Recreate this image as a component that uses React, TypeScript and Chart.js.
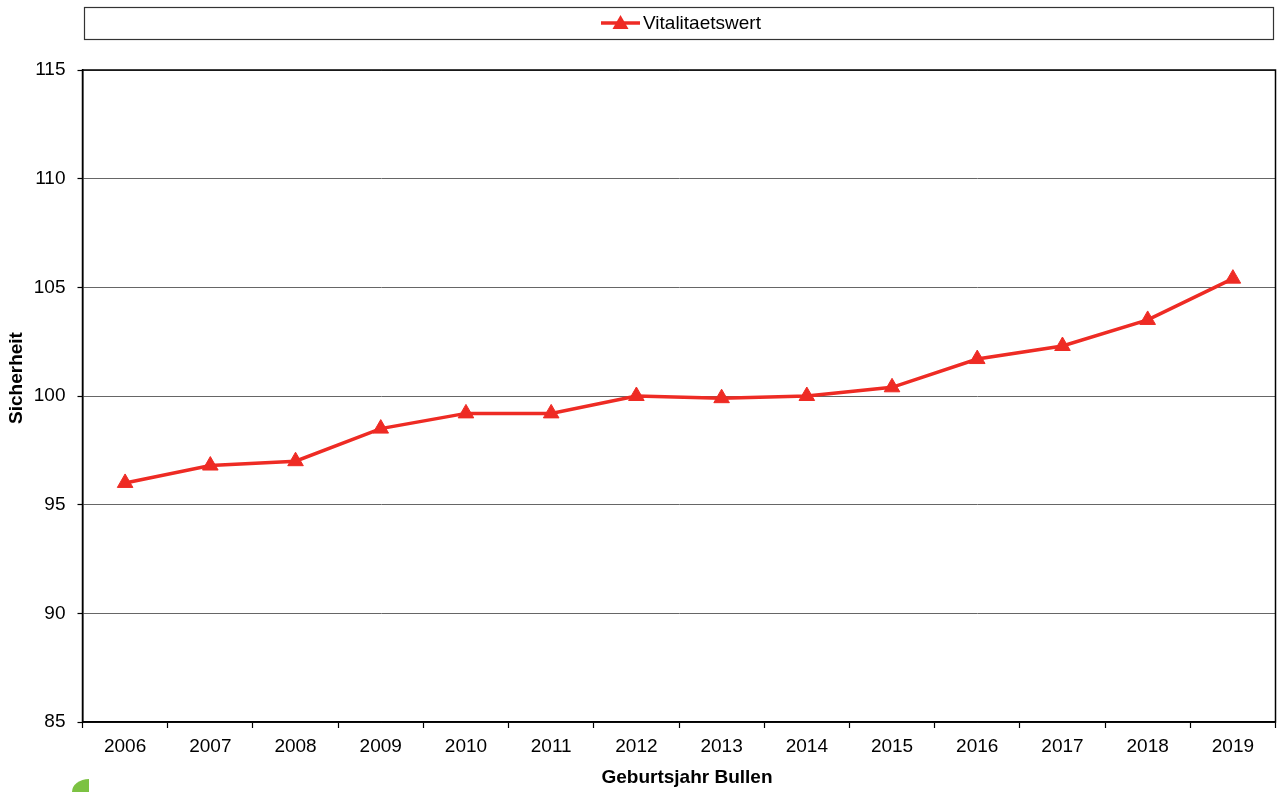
import React, { useEffect, useRef } from "react";
import { Chart, registerables } from "chart.js";

Chart.register(...registerables);

const years = ["2006", "2007", "2008", "2009", "2010", "2011", "2012", "2013", "2014", "2015", "2016", "2017", "2018", "2019"];
const vitalitaetswert = [96.0, 96.8, 97.0, 98.5, 99.2, 99.2, 100.0, 99.9, 100.0, 100.4, 101.7, 102.3, 103.5, 105.4];
const seriesName = "Vitalitaetswert";
const yTitle = "Sicherheit";
const xTitle = "Geburtsjahr Bullen";
const yMin = 85;
const yMax = 115;
const yStep = 5;

const FONT = "'Liberation Sans', Arial, sans-serif";
const RED = "#ee2b24";

const framePlugin = {
  id: "frame",
  afterDraw(chart: any) {
    const { ctx, chartArea } = chart;
    ctx.save();
    // plot border
    ctx.strokeStyle = "#000";
    ctx.lineWidth = 1.5;
    ctx.strokeRect(chartArea.left, chartArea.top, chartArea.right - chartArea.left, chartArea.bottom - chartArea.top);
    // legend box
    ctx.lineWidth = 1.2;
    ctx.strokeStyle = "#333";
    ctx.strokeRect(84.5, 7.5, 1189, 32);
    // legend symbol
    const cy = 23;
    ctx.strokeStyle = RED;
    ctx.lineWidth = 3.5;
    ctx.beginPath();
    ctx.moveTo(601, cy);
    ctx.lineTo(640, cy);
    ctx.stroke();
    ctx.fillStyle = RED;
    ctx.beginPath();
    ctx.moveTo(620.5, cy - 8);
    ctx.lineTo(628.5, cy + 6);
    ctx.lineTo(612.5, cy + 6);
    ctx.closePath();
    ctx.fill();
    ctx.fillStyle = "#000";
    ctx.font = `19px ${FONT}`;
    ctx.textBaseline = "middle";
    ctx.textAlign = "left";
    ctx.fillText(seriesName, 643, cy + 1);
    // axis titles
    ctx.font = `bold 19px ${FONT}`;
    ctx.textAlign = "center";
    ctx.fillText(xTitle, 687, 778);
    ctx.translate(17, 378);
    ctx.rotate(-Math.PI / 2);
    ctx.fillText(yTitle, 0, 0);
    ctx.restore();
  },
};

export default function App() {
  const ref = useRef<HTMLCanvasElement>(null);
  useEffect(() => {
    if (!ref.current) return;
    const chart = new Chart(ref.current, {
      type: "line",
      data: {
        labels: years,
        datasets: [
          {
            label: seriesName,
            data: vitalitaetswert,
            borderColor: RED,
            backgroundColor: RED,
            borderWidth: 3.5,
            pointStyle: "triangle",
            pointRadius: 9,
            pointHoverRadius: 9,
            pointBackgroundColor: RED,
            pointBorderColor: RED,
            pointBorderWidth: 1,
            tension: 0,
          },
        ],
      },
      options: {
        animation: false,
        responsive: false,
        devicePixelRatio: 1,
        layout: { autoPadding: false, padding: { left: 0, top: 70, right: 1.5, bottom: 0 } },
        plugins: { legend: { display: false }, tooltip: { enabled: false } },
        scales: {
          x: {
            offset: true,
            afterFit: (s: any) => { s.height = 70; s.paddingLeft = 0; s.paddingRight = 0; },
            grid: { offset: true, drawOnChartArea: false, tickLength: 6, tickColor: "#000", tickWidth: 1.2 },
            border: { color: "#000", width: 1.5 },
            ticks: { color: "#000", font: { family: FONT, size: 19 }, padding: 7, maxRotation: 0, autoSkip: false },
            title: { display: false },
          },
          y: {
            min: yMin,
            max: yMax,
            afterFit: (s: any) => { s.width = 82.5; s.paddingTop = 0; s.paddingBottom = 0; },
            grid: { color: "#666", lineWidth: 1, tickLength: 5, tickColor: "#000", tickWidth: 1.2 },
            border: { color: "#000", width: 1.5 },
            ticks: { stepSize: yStep, color: "#000", font: { family: FONT, size: 19 }, padding: 12 },
            title: { display: false },
          },
        },
      },
      plugins: [framePlugin],
    } as any);
    return () => chart.destroy();
  }, []);
  return (
    <div style={{ position: "absolute", left: 0, top: 0, width: 1277, height: 792, background: "#fff", overflow: "hidden" }}>
      <canvas ref={ref} width={1277} height={792} style={{ display: "block" }} />
      <div
        style={{
          position: "absolute",
          left: 72,
          top: 779,
          width: 17,
          height: 13,
          background: "#7cc242",
          borderTopLeftRadius: "100% 100%",
        }}
      />
    </div>
  );
}
